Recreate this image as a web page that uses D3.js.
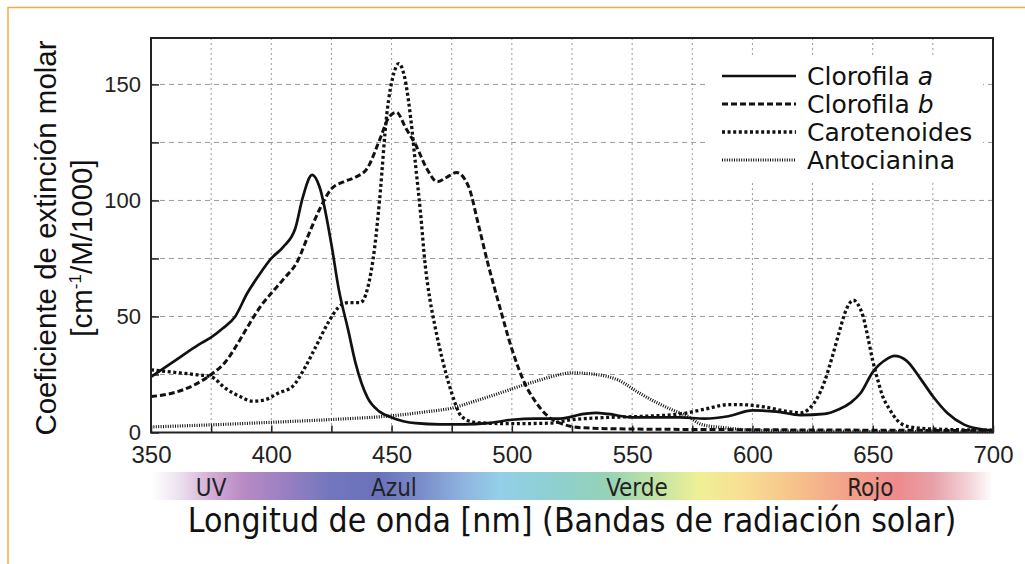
<!DOCTYPE html>
<html>
<head>
<meta charset="utf-8">
<script src="https://cdn.jsdelivr.net/npm/d3@7"></script>
<style>
  body { margin: 0; background: #fff; }
  svg { display: block; }
</style>
</head>
<body>
<div id="vis"></div>
<script>
// --- data (wavelength nm -> coefficient) ---
var chlAWl  = [350,360,370,375,380,385,390,395,400,405,410,413,417,420,425,428,432,435,440,445,450,460,470,480,490,500,510,520,530,535,540,550,560,570,580,590,600,610,620,630,636,641,645,650,656,659,664,670,675,681,688,696,700];
var chlAVal = [24,31,38,41,45,50,60,68,75,80,88,101,111,106,81,62,44,30,15,9,6.5,4,3.5,3.5,4,5.5,6,6,8,8.5,8,6.5,6.5,6.5,6,7,9.5,9,7.5,8,10,13,17,26,31.7,33,31,23,15.6,8.4,3.4,1.3,1];

var chlBWl  = [350,359,367,375,381,387,391,396,400,405,411,415,420,425,430,435,440,445,449,452,456,460,465,469,473,477,482,486,490,495,500,505,510,515,520,530,550,600,650,700];
var chlBVal = [15.5,17,20,25,30.5,40,47,55,60,66,74,84,96,105,108,110,114,126,136,138,131,124,113,108,110,112,106,90,73,54,36,22,13,7,4,2,1.5,1.2,1,0.8];

var carWl  = [350,359,368,375,381,387,392,397,403,409,414,419,424,428,432,437,440,443,445,448,451,453,456,458,460,462,464,466,468,471,475,479,484,490,500,515,525,540,555,570,580,590,595,605,615,620,627,630,633,636,639,642,644,646,648,650,652,654,657,660,665,675,700];
var carVal = [27,26,25,24,19,15.5,13.5,14,17,20,28,38,48,54,56,56,62,80,100,137,155,159,150,135,115,95,72,57,46,32,17,7,4.5,4,3.8,4,5.5,6.5,7,8,10,12,12,11,9,8.5,15,22,32,43,53,57,55,50,41,31,23,16,10,5.5,2.5,1.5,1];

var antWl  = [350,375,400,425,450,465,475,484,495,505,512,518,525,535,544,553,560,565,573,579,589,600,620,700];
var antVal = [2.4,3.3,4.4,5.6,7.2,9,10.5,13.3,17,20.5,22.7,24.5,25.7,25,22.7,17,13,10.5,7,3.4,2,1,0.6,0.3];

var seriesNames = ["Clorofila a", "Clorofila b", "Carotenoides", "Antocianina"];
var xTicks = [350,400,450,500,550,600,650,700];
var yTicks = [0,50,100,150];
var bandNames = ["UV", "Azul", "Verde", "Rojo"];
var bandWl = [375, 451, 552, 649];

var W = 1025, H = 564;
var pLeft = 151, pRight = 993, pTop = 38, pBottom = 432.5;

var svg = d3.select("#vis").append("svg")
    .attr("width", W)
    .attr("height", H);

// orange frame (top + left edges)
svg.append("path")
    .attr("d", "M8,564 L8,7.5 L1025,7.5")
    .attr("fill", "none")
    .attr("stroke", "#f5ab45")
    .attr("stroke-width", 1.5);

var x = d3.scaleLinear().domain([350, 700]).range([pLeft, pRight]);
var y = d3.scaleLinear().domain([0, 170]).range([pBottom, pTop]);

// grid
var g = svg.append("g");
g.selectAll(".hgrid")
  .data(d3.range(25, 170, 25))
  .enter().append("line")
    .attr("x1", pLeft).attr("x2", pRight)
    .attr("y1", function(d) { return y(d); })
    .attr("y2", function(d) { return y(d); })
    .attr("stroke", "#999")
    .attr("stroke-width", 1)
    .attr("stroke-dasharray", "5,4");
g.selectAll(".vgrid")
  .data(d3.range(375, 700, 25))
  .enter().append("line")
    .attr("y1", pTop).attr("y2", pBottom)
    .attr("x1", function(d) { return x(d); })
    .attr("x2", function(d) { return x(d); })
    .attr("stroke", "#999")
    .attr("stroke-width", 1)
    .attr("stroke-dasharray", "2,3");

// inward ticks
g.append("g")
    .attr("transform", "translate(0," + pBottom + ")")
    .call(d3.axisTop(x).tickValues(d3.range(350, 701, 25)).tickSize(7).tickFormat(""))
    .call(function(s) { s.select(".domain").remove(); s.selectAll("line").attr("stroke", "#222").attr("stroke-width", 1.5); });
g.append("g")
    .attr("transform", "translate(" + pLeft + ",0)")
    .call(d3.axisRight(y).tickValues(d3.range(0, 170, 25)).tickSize(8).tickFormat(""))
    .call(function(s) { s.select(".domain").remove(); s.selectAll("line").attr("stroke", "#222").attr("stroke-width", 1.5); });

// tick labels
svg.append("g")
    .attr("transform", "translate(0," + (pBottom + 30) + ")")
    .call(d3.axisBottom(x).tickValues(xTicks).tickSize(0).tickPadding(0))
    .call(function(s) {
        s.select(".domain").remove();
        s.selectAll("text").attr("font-family", "Liberation Sans, Arial, sans-serif")
          .attr("font-size", 24).attr("fill", "#222").attr("dy", 0);
    });
svg.append("g")
    .attr("transform", "translate(" + (pLeft - 10) + ",0)")
    .call(d3.axisLeft(y).tickValues(yTicks).tickSize(0).tickPadding(0))
    .call(function(s) {
        s.select(".domain").remove();
        s.selectAll("text").attr("font-family", "Liberation Sans, Arial, sans-serif")
          .attr("font-size", 22).attr("fill", "#222").attr("dy", "0.33em");
    });

var styles = [
    {w: 2.7, dash: null},
    {w: 3, dash: "6,3"},
    {w: 3.3, dash: "3,2.6"},
    {w: 3.2, dash: "1,1.4"}
];
var series = [
    {wl: chlAWl, v: chlAVal},
    {wl: chlBWl, v: chlBVal},
    {wl: carWl, v: carVal},
    {wl: antWl, v: antVal}
];

var line = d3.line()
    .x(function(d) { return x(d[0]); })
    .y(function(d) { return y(d[1]); })
    .curve(d3.curveMonotoneX);

// draw antocianina first so others sit on top
[3, 2, 1, 0].forEach(function(i) {
    var pts = series[i].wl.map(function(w, k) { return [w, series[i].v[k]]; });
    svg.append("path")
        .datum(pts)
        .attr("d", line)
        .attr("fill", "none")
        .attr("stroke", "#111")
        .attr("stroke-width", styles[i].w)
        .attr("stroke-dasharray", styles[i].dash);
});

// legend background (hides grid)
svg.append("rect")
    .attr("x", 707).attr("y", 57)
    .attr("width", 276).attr("height", 126)
    .attr("fill", "#fff");

var leg = svg.append("g");
seriesNames.forEach(function(name, i) {
    var yy = 76 + i * 28;
    leg.append("line")
        .attr("x1", 722).attr("x2", 796)
        .attr("y1", yy).attr("y2", yy)
        .attr("stroke", "#111")
        .attr("stroke-width", styles[i].w)
        .attr("stroke-dasharray", styles[i].dash);
    var t = leg.append("text")
        .attr("x", 807).attr("y", yy)
        .attr("dy", "0.36em")
        .attr("font-family", "DejaVu Sans, sans-serif")
        .attr("font-size", 25)
        .attr("fill", "#111");
    if (i < 2) {
        var parts = name.split(" ");
        t.append("tspan").text(parts[0] + " ");
        t.append("tspan").attr("font-style", "italic").text(parts[1]);
    } else {
        t.text(name);
    }
});

// plot frame
svg.append("rect")
    .attr("x", pLeft).attr("y", pTop)
    .attr("width", pRight - pLeft).attr("height", pBottom - pTop)
    .attr("fill", "none")
    .attr("stroke", "#222")
    .attr("stroke-width", 2);

// y title
var yt = svg.append("g")
    .attr("font-family", "Liberation Sans, Arial, sans-serif")
    .attr("font-size", 29.5)
    .attr("fill", "#111")
    .attr("text-anchor", "middle");
yt.append("text")
    .attr("transform", "translate(56,238) rotate(-90)")
    .text("Coeficiente de extinción molar");
var y2 = yt.append("text")
    .attr("transform", "translate(92,248) rotate(-90)");
y2.append("tspan").text("[cm");
y2.append("tspan").attr("font-size", 17).attr("dy", -11).text("-1");
y2.append("tspan").attr("dy", 11).text("/M/1000]");

// spectrum band
var spectrumStops = [
    [350, "#ffffff"], [362, "#ece0ee"], [375, "#d2aed6"], [388, "#b98bc4"],
    [405, "#9a80c2"], [425, "#7276bd"], [445, "#6a72bb"], [462, "#7a8cca"],
    [480, "#8fb4e0"], [495, "#93cfe8"], [515, "#8ed0d4"], [540, "#96d2b6"],
    [560, "#c2e3a4"], [578, "#eff096"], [598, "#f8dc92"], [620, "#f6bf8a"],
    [640, "#f2a08a"], [660, "#ee8a8c"], [675, "#e8a0a8"], [690, "#f2d4d8"],
    [700, "#ffffff"]
];
var defs = svg.append("defs");
var grad = defs.append("linearGradient")
    .attr("id", "spec")
    .attr("gradientUnits", "userSpaceOnUse")
    .attr("x1", x(350)).attr("x2", x(700))
    .attr("y1", 0).attr("y2", 0);
grad.selectAll("stop")
  .data(spectrumStops)
  .enter().append("stop")
    .attr("offset", function(d) { return (d[0] - 350) / 350; })
    .attr("stop-color", function(d) { return d[1]; });

svg.append("rect")
    .attr("x", x(350)).attr("y", 472)
    .attr("width", x(700) - x(350) + 2).attr("height", 28)
    .attr("fill", "url(#spec)");

svg.selectAll(".band")
  .data(bandNames)
  .enter().append("text")
    .attr("x", function(d, i) { return x(bandWl[i]); })
    .attr("y", 496)
    .attr("text-anchor", "middle")
    .attr("font-family", "DejaVu Sans Condensed, DejaVu Sans, sans-serif")
    .attr("font-stretch", "condensed")
    .attr("font-size", 24)
    .attr("fill", "#222")
    .text(function(d) { return d; });

svg.append("text")
    .attr("x", 572)
    .attr("y", 532)
    .attr("text-anchor", "middle")
    .attr("font-family", "DejaVu Sans Condensed, DejaVu Sans, sans-serif")
    .attr("font-stretch", "condensed")
    .attr("font-size", 33.5)
    .attr("fill", "#111")
    .text("Longitud de onda [nm] (Bandas de radiación solar)");
</script>
</body>
</html>
